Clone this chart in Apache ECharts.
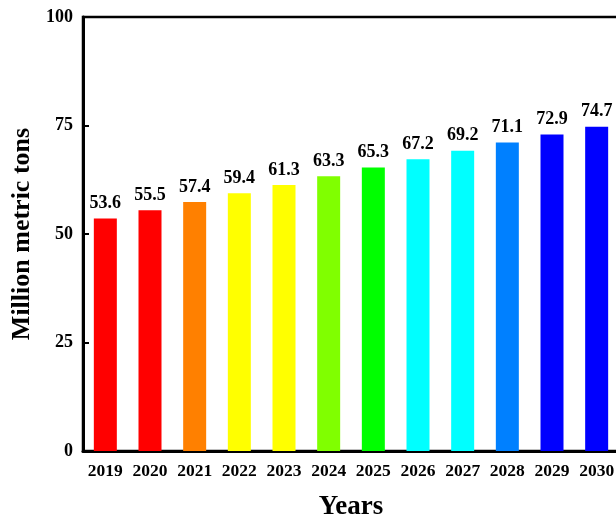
<!DOCTYPE html>
<html>
<head>
<meta charset="utf-8">
<script src="https://cdn.jsdelivr.net/npm/echarts@6/dist/echarts.min.js"></script>
<style>
  html, body { margin: 0; padding: 0; background: #fff; }
  #main { width: 616px; height: 515px; }
</style>
</head>
<body>
<div id="main"></div>
<script>
  var years = ['2019', '2020', '2021', '2022', '2023', '2024', '2025', '2026', '2027', '2028', '2029', '2030'];
  var production = [53.6, 55.5, 57.4, 59.4, 61.3, 63.3, 65.3, 67.2, 69.2, 71.1, 72.9, 74.7];
  var barColors = ['#ff0000', '#ff0000', '#ff8000', '#ffff00', '#ffff00', '#80ff00',
                   '#00ff00', '#00ffff', '#00ffff', '#0080ff', '#0000ff', '#0000ff'];
  var yTicks = [0, 25, 50, 75, 100];

  var font = '"Liberation Serif", "Times New Roman", serif';

  var chart = echarts.init(document.getElementById('main'));
  var option = {
    animation: false,
    grid: {
      left: 83, top: 17, bottom: 64, width: 536,
      outerBoundsMode: 'none',
      containLabel: false,
      show: true, borderColor: '#000', borderWidth: 2.5
    },
    xAxis: {
      type: 'category',
      data: years,
      name: 'Years',
      nameLocation: 'middle',
      nameGap: 43,
      nameTextStyle: { fontFamily: font, fontWeight: 'bold', fontSize: 27, color: '#000' },
      axisLine: { lineStyle: { color: '#000', width: 3 } },
      axisTick: { inside: true, alignWithLabel: true, interval: 0, length: 5, lineStyle: { color: '#000', width: 2 } },
      axisLabel: { interval: 0, hideOverlap: false, fontFamily: font, fontWeight: 'bold', fontSize: 17.5, color: '#000', margin: 11 }
    },
    yAxis: {
      type: 'value',
      min: yTicks[0],
      max: yTicks[yTicks.length - 1],
      interval: 25,
      name: 'Million metric tons',
      nameLocation: 'middle',
      nameGap: 45,
      nameTextStyle: { fontFamily: font, fontWeight: 'bold', fontSize: 26, color: '#000' },
      axisLine: { show: true, lineStyle: { color: '#000', width: 3 } },
      axisTick: { show: true, inside: true, length: 6, lineStyle: { color: '#000', width: 2 } },
      axisLabel: { fontFamily: font, fontWeight: 'bold', fontSize: 18, color: '#000', margin: 10 },
      splitLine: { show: false }
    },
    series: [{
      type: 'bar',
      data: production.map(function (v, i) {
        return { value: v, itemStyle: { color: barColors[i] } };
      }),
      barWidth: 23,
      label: {
        show: true,
        position: 'top',
        distance: 6,
        fontFamily: font,
        fontWeight: 'bold',
        fontSize: 18,
        color: '#000'
      }
    }]
  };
  chart.setOption(option);
</script>
</body>
</html>
